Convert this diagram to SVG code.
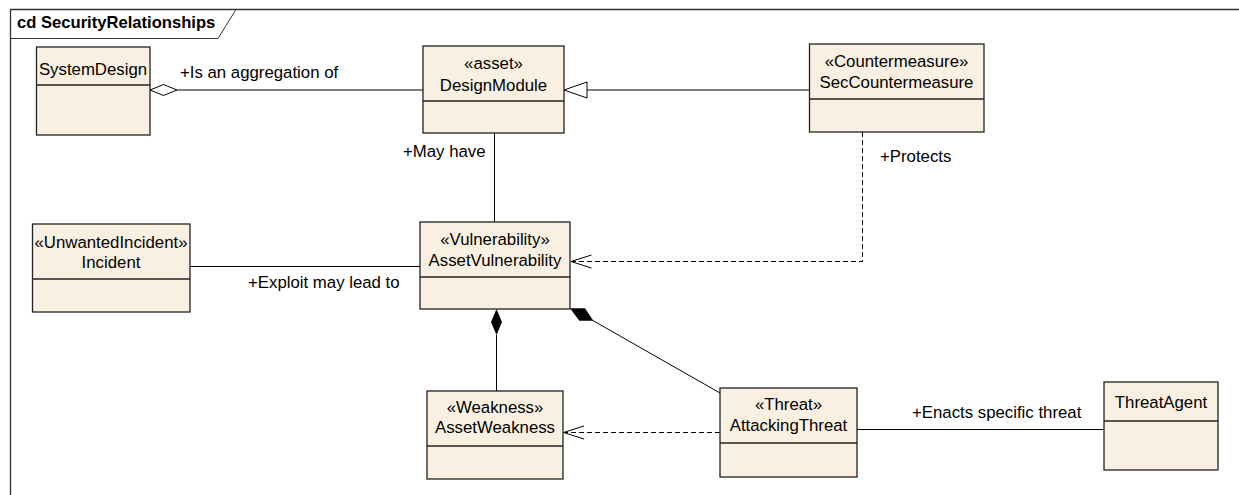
<svg xmlns="http://www.w3.org/2000/svg" width="1239" height="495" viewBox="0 0 1239 495">
<style>
text{font-family:"Liberation Sans",Arial,sans-serif;font-size:16.8px;fill:#000}
.c{text-anchor:middle}
.box{fill:#FAF0E1;stroke:#222;stroke-width:1.3}
.div{stroke:#222;stroke-width:1.3}
.ln{stroke:#000;stroke-width:1;fill:none}
.dash{stroke:#000;stroke-width:1;fill:none;stroke-dasharray:5,3}
.title{font-weight:bold;font-size:16.6px}
</style>
<rect x="0" y="0" width="1239" height="495" fill="#fff"/>
<g id="frame">
<path d="M10.5,495 V9.5 H1239" fill="none" stroke="#333" stroke-width="1.3"/>
<path d="M10.5,38.5 H218 L236,9.5" fill="none" stroke="#333" stroke-width="1"/>
<text class="title" x="17" y="28">cd SecurityRelationships</text>
</g>
<g id="connectors">
<line class="ln" x1="177" y1="90" x2="423" y2="90"/>
<polygon points="150,90 163.5,84.5 177,90 163.5,95.5" fill="#fff" stroke="#000" stroke-width="1"/>
<line class="ln" x1="587" y1="90" x2="809" y2="90"/>
<polygon points="564,90 587,82 587,98" fill="#fff" stroke="#000" stroke-width="1"/>
<line class="ln" x1="494.5" y1="133" x2="494.5" y2="222"/>
<polyline class="dash" points="862.5,132 862.5,261.5 572,261.5"/>
<polyline class="ln" points="591.5,255 571,261.5 591.5,268"/>
<line class="ln" x1="190" y1="266.5" x2="420" y2="266.5"/>
<line class="ln" x1="496.5" y1="335" x2="496.5" y2="391"/>
<polygon points="496.5,309 502,322 496.5,335 491,322" fill="#000"/>
<polygon points="570,308.3 585,308.3 593.3,320.7 579.3,320.7" fill="#000"/>
<line class="ln" x1="592" y1="320" x2="720" y2="393"/>
<line class="dash" x1="720" y1="432.5" x2="565" y2="432.5"/>
<polyline class="ln" points="584,426 563.5,432.5 584,439"/>
<line class="ln" x1="857" y1="429.5" x2="1104" y2="429.5"/>
<text x="180" y="78">+Is an aggregation of</text>
<text x="403" y="157">+May have</text>
<text x="880" y="162">+Protects</text>
<text x="248" y="288">+Exploit may lead to</text>
<text x="912" y="418">+Enacts specific threat</text>
</g>
<g id="SystemDesign">
<rect class="box" x="36.5" y="47" width="113.5" height="88"/>
<line class="div" x1="36.5" y1="85" x2="150" y2="85"/>
<text class="c" x="93" y="75">SystemDesign</text>
</g>
<g id="DesignModule">
<rect class="box" x="423" y="46" width="141" height="87"/>
<line class="div" x1="423" y1="101" x2="564" y2="101"/>
<text class="c" x="493.5" y="69">«asset»</text>
<text class="c" x="493.5" y="91">DesignModule</text>
</g>
<g id="SecCountermeasure">
<rect class="box" x="809.5" y="44" width="174.5" height="88"/>
<line class="div" x1="809.5" y1="99" x2="984" y2="99"/>
<text class="c" x="896.5" y="67">«Countermeasure»</text>
<text class="c" x="896.5" y="87.5">SecCountermeasure</text>
</g>
<g id="Incident">
<rect class="box" x="32.5" y="224" width="157.5" height="88"/>
<line class="div" x1="32.5" y1="279" x2="190" y2="279"/>
<text class="c" x="111" y="248">«UnwantedIncident»</text>
<text class="c" x="111" y="268">Incident</text>
</g>
<g id="AssetVulnerability">
<rect class="box" x="420" y="222" width="150" height="87"/>
<line class="div" x1="420" y1="277" x2="570" y2="277"/>
<text class="c" x="495" y="244.5">«Vulnerability»</text>
<text class="c" x="495" y="266">AssetVulnerability</text>
</g>
<g id="AssetWeakness">
<rect class="box" x="427" y="391" width="136" height="88"/>
<line class="div" x1="427" y1="446" x2="563" y2="446"/>
<text class="c" x="495" y="413">«Weakness»</text>
<text class="c" x="495" y="433">AssetWeakness</text>
</g>
<g id="AttackingThreat">
<rect class="box" x="720" y="388" width="137" height="89"/>
<line class="div" x1="720" y1="443" x2="857" y2="443"/>
<text class="c" x="788.5" y="410">«Threat»</text>
<text class="c" x="788.5" y="431">AttackingThreat</text>
</g>
<g id="ThreatAgent">
<rect class="box" x="1104" y="382" width="114" height="88"/>
<line class="div" x1="1104" y1="421" x2="1218" y2="421"/>
<text class="c" x="1161" y="408">ThreatAgent</text>
</g>
</svg>
